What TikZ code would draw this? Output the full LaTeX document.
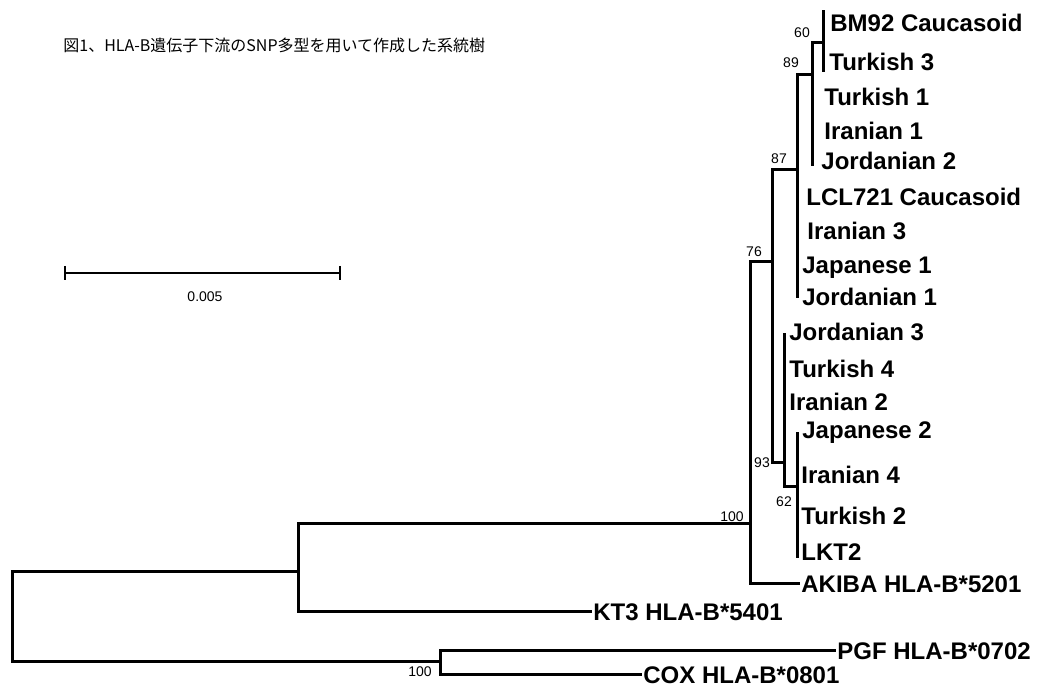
\documentclass[tikz,border=0pt]{standalone}
\usepackage{fontspec}
\setmainfont{Liberation Sans}
\newfontfamily\cjk{Noto Sans CJK JP}
\begin{document}
\begin{tikzpicture}[x=0.5pt,y=-0.5pt,
  br/.style={line width=1.5pt,line cap=rect,line join=miter},
  leaf/.style={anchor=west,font=\fontsize{12}{14}\selectfont\bfseries,inner xsep=1.5pt,inner ysep=0pt,text height=8.6pt,text depth=0pt},
  boot/.style={font=\fontsize{7}{8}\selectfont,inner sep=0pt},
  ttl/.style={anchor=west,font=\cjk\fontsize{8}{10}\selectfont,inner sep=0pt}]
\useasboundingbox (0,0) rectangle (1040,688);
% title
\node[ttl] (title) at (63,45) {図1、HLA-B遺伝子下流のSNP多型を用いて作成した系統樹};
% scale bar
\coordinate (sbL) at (65,273);
\coordinate (sbR) at (340,273);
\draw[line width=1pt] (sbL) -- (sbR);
\draw[line width=1pt] ([yshift=3.5pt]sbL) -- ([yshift=-3.5pt]sbL);
\draw[line width=1pt] ([yshift=3.5pt]sbR) -- ([yshift=-3.5pt]sbR);
\node[boot] (sblab) at (205,297) {0.005};
% leaves
\node[leaf] (bm92) at (827,23) {BM92 Caucasoid};
\node[leaf] (tur3) at (826,62) {Turkish 3};
\node[leaf] (tur1) at (821,97) {Turkish 1};
\node[leaf] (ira1) at (821,131) {Iranian 1};
\node[leaf] (jor2) at (818,161) {Jordanian 2};
\node[leaf] (lcl) at (803,197) {LCL721 Caucasoid};
\node[leaf] (ira3) at (804,231) {Iranian 3};
\node[leaf] (jap1) at (799,265) {Japanese 1};
\node[leaf] (jor1) at (799,297) {Jordanian 1};
\node[leaf] (jor3) at (786,332) {Jordanian 3};
\node[leaf] (tur4) at (786,369) {Turkish 4};
\node[leaf] (ira2) at (786,402) {Iranian 2};
\node[leaf] (jap2) at (799,430) {Japanese 2};
\node[leaf] (ira4) at (798,475) {Iranian 4};
\node[leaf] (tur2) at (798,516) {Turkish 2};
\node[leaf] (lkt2) at (798,552) {LKT2};
\node[leaf] (akiba) at (798,584) {AKIBA HLA-B*5201};
\node[leaf] (kt3) at (590,612) {KT3 HLA-B*5401};
\node[leaf] (pgf) at (834,651) {PGF HLA-B*0702};
\node[leaf] (cox) at (640,675) {COX HLA-B*0801};
% internal node coordinates
\coordinate (rootT) at (12,572);
\coordinate (rootB) at (12,662);
\coordinate (aT) at (298,524);
\coordinate (aM) at (298,572);
\coordinate (aB) at (298,612);
\coordinate (bT) at (440,651);
\coordinate (bM) at (440,662);
\coordinate (bB) at (440,675);
\coordinate (cT) at (750,262);
\coordinate (cE) at (750,524);
\coordinate (cB) at (750,584);
\coordinate (n76T) at (772,170);
\coordinate (n76E) at (772,262);
\coordinate (n76B) at (772,463);
\coordinate (n87T) at (797,75);
\coordinate (n87E) at (797,170);
\coordinate (n87B) at (797,297);
\coordinate (n89T) at (812,43);
\coordinate (n89E) at (812,75);
\coordinate (n89B) at (812,165);
\coordinate (n60T) at (823,12);
\coordinate (n60E) at (823,43);
\coordinate (n60B) at (823,71);
\coordinate (n93T) at (784,335);
\coordinate (n93E) at (784,463);
\coordinate (n93B) at (784,487);
\coordinate (n62T) at (797,434);
\coordinate (n62E) at (797,487);
\coordinate (n62B) at (797,557);
% branches
\draw[br] (rootT) -- (rootB);
\draw[br] (rootT) -- (aM);
\draw[br] (aT) -- (aB);
\draw[br] (aT) -- (cE);
\draw[br] (aB) -- (kt3.west);
\draw[br] (rootB) -- (bM);
\draw[br] (bT) -- (bB);
\draw[br] (bT) -- (pgf.west);
\draw[br] (bB) -- (cox.west);
\draw[br] (cT) -- (cB);
\draw[br] (cB) -- (akiba.west);
\draw[br] (cT) -- (n76E);
\draw[br] (n76T) -- (n76B);
\draw[br] (n76T) -- (n87E);
\draw[br] (n87T) -- (n87B);
\draw[br] (n87T) -- (n89E);
\draw[br] (n89T) -- (n89B);
\draw[br] (n89T) -- (n60E);
\draw[br] (n60T) -- (n60B);
\draw[br] (n76B) -- (n93E);
\draw[br] (n93T) -- (n93B);
\draw[br] (n93B) -- (n62E);
\draw[br] (n62T) -- (n62B);
% bootstrap values
\node[boot] (b60) at (802,33) {60};
\node[boot] (b89) at (791,63) {89};
\node[boot] (b87) at (779,159) {87};
\node[boot] (b76) at (754,252) {76};
\node[boot] (b93) at (762,463) {93};
\node[boot] (b62) at (784,502) {62};
\node[boot] (b100a) at (732,517) {100};
\node[boot] (b100b) at (420,672) {100};
\end{tikzpicture}
\end{document}
